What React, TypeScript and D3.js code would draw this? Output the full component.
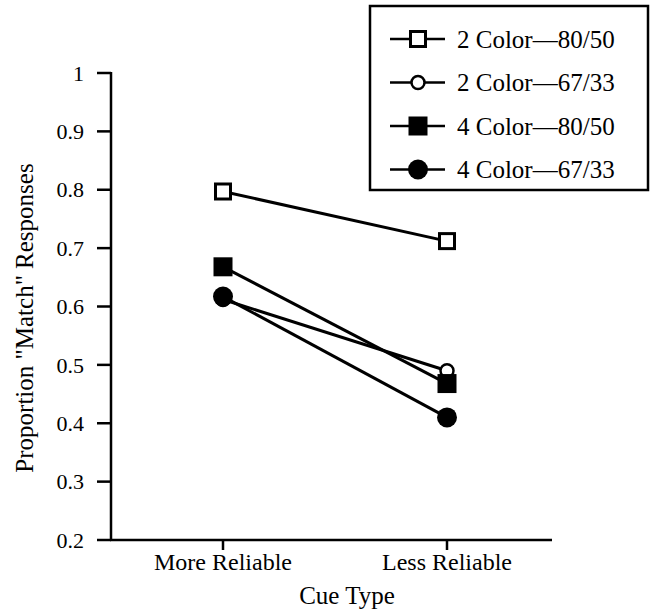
import { useMemo } from "react";
import * as d3 from "d3";

// Data
const cueTypes = ["More Reliable", "Less Reliable"];
const seriesNames = ["2 Color—80/50", "2 Color—67/33", "4 Color—80/50", "4 Color—67/33"];
const twoColor8050 = [0.797, 0.712];
const twoColor6733 = [0.612, 0.49];
const fourColor8050 = [0.668, 0.468];
const fourColor6733 = [0.617, 0.41];
const yTicks = [0.2, 0.3, 0.4, 0.5, 0.6, 0.7, 0.8, 0.9, 1];

type Marker = "openSquare" | "openCircle" | "filledSquare" | "filledCircle";
const markers: Marker[] = ["openSquare", "openCircle", "filledSquare", "filledCircle"];
const values = [twoColor8050, twoColor6733, fourColor8050, fourColor6733];

const FONT = "Liberation Serif, Times New Roman, Times, serif";
const W = 652;
const H = 613;

function MarkerShape({ type, x, y }: { type: Marker; x: number; y: number }) {
  switch (type) {
    case "openSquare":
      return <rect x={x - 7.5} y={y - 7.5} width={15} height={15} fill="#fff" stroke="#000" strokeWidth={3} />;
    case "filledSquare":
      return <rect x={x - 9.5} y={y - 9.5} width={19} height={19} fill="#000" />;
    case "openCircle":
      return <circle cx={x} cy={y} r={6.5} fill="#fff" stroke="#000" strokeWidth={2.5} />;
    case "filledCircle":
      return <circle cx={x} cy={y} r={10} fill="#000" />;
  }
}

export default function App() {
  const x = useMemo(
    () => d3.scalePoint<string>().domain(cueTypes).range([111, 559]).padding(0.5),
    []
  );
  const y = useMemo(() => d3.scaleLinear().domain([0.2, 1]).range([540, 73]), []);
  const line = d3
    .line<number>()
    .x((_, i) => x(cueTypes[i])!)
    .y((d) => y(d));

  return (
    <svg
      width={W}
      height={H}
      style={{ position: "absolute", left: 0, top: 0, background: "#fff", fontFamily: FONT }}
    >
      {/* y axis */}
      <line x1={111} x2={111} y1={y(1) - 1} y2={y(0.2) + 1} stroke="#000" strokeWidth={2.5} />
      {yTicks.map((t) => (
        <g key={t}>
          <line x1={97} x2={111} y1={y(t)} y2={y(t)} stroke="#000" strokeWidth={2.5} />
          <text x={84} y={y(t)} dy="0.35em" textAnchor="end" fontSize={22}>
            {String(t)}
          </text>
        </g>
      ))}
      {/* x axis */}
      <line x1={110} x2={552} y1={y(0.2)} y2={y(0.2)} stroke="#000" strokeWidth={2.5} />
      {cueTypes.map((c) => (
        <g key={c}>
          <line x1={x(c)} x2={x(c)} y1={y(0.2)} y2={y(0.2) + 10} stroke="#000" strokeWidth={2.5} />
          <text x={x(c)} y={570} textAnchor="middle" fontSize={24}>
            {c}
          </text>
        </g>
      ))}
      <text x={347} y={604} textAnchor="middle" fontSize={25}>
        Cue Type
      </text>
      <text transform={`translate(33,318) rotate(-90)`} textAnchor="middle" fontSize={25}>
        Proportion "Match" Responses
      </text>

      {/* series */}
      {values.map((v, i) => (
        <path key={seriesNames[i]} d={line(v) ?? ""} fill="none" stroke="#000" strokeWidth={3} />
      ))}
      {values.map((v, i) =>
        v.map((d, j) => (
          <MarkerShape key={`${i}-${j}`} type={markers[i]} x={x(cueTypes[j])!} y={y(d)} />
        ))
      )}

      {/* legend */}
      <rect x={370} y={6} width={278} height={184} fill="#fff" stroke="#000" strokeWidth={2.5} />
      {seriesNames.map((name, i) => {
        const ly = 39 + i * 43.5;
        return (
          <g key={name}>
            <line x1={390} x2={445} y1={ly} y2={ly} stroke="#000" strokeWidth={2.5} />
            <MarkerShape type={markers[i]} x={418} y={ly} />
            <text x={457} y={ly} dy="0.35em" fontSize={25}>
              {name}
            </text>
          </g>
        );
      })}
    </svg>
  );
}
